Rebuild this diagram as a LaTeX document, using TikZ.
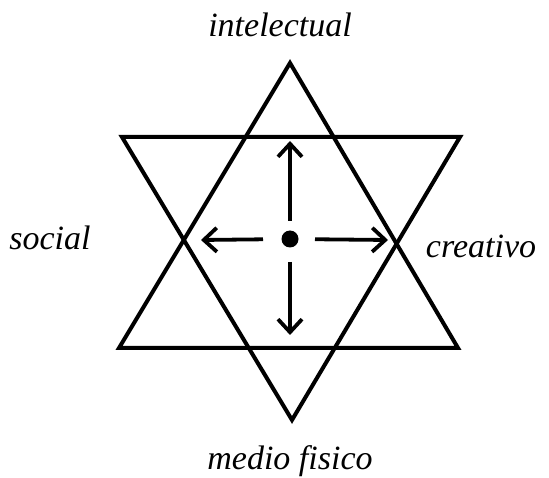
\documentclass[tikz,border=0pt]{standalone}
\usepackage{fontspec}
\setmainfont{Liberation Serif}
\usepackage{tikz}
\usetikzlibrary{arrows.meta,positioning}

\begin{document}
\begin{tikzpicture}[
  x=1pt, y=-1pt,
  every node/.style={font=\fontsize{34}{36}\selectfont\itshape},
  tri/.style={line width=4pt, line join=miter},
  arr/.style={-{Straight Barb[length=13pt, width=24pt, line width=3.8pt]}, line width=3.8pt},
  hub/.style={circle, fill=black, inner sep=0pt, minimum size=17pt}
]
\useasboundingbox (0,0) rectangle (549,478);

% star vertices
\coordinate (ut) at (290,63);
\coordinate (ul) at (119,348);
\coordinate (ur) at (458,348);
\coordinate (dl) at (122,137);
\coordinate (dr) at (460,137);
\coordinate (db) at (292,420);

\draw[tri] (ut) -- (ur) -- (ul) -- cycle;
\draw[tri] (dl) -- (dr) -- (db) -- cycle;

% center and arrows
\node[hub] (ctr) at (290,239) {};
\coordinate (up) at (290,141);
\coordinate (lt) at (201,240);
\coordinate (rt) at (388,240);
\coordinate (dn) at (290,335);
\draw[arr, shorten <=18pt] (ctr.center) -- (up);
\draw[arr, shorten <=27pt] (ctr.center) -- (lt);
\draw[arr, shorten <=25pt] (ctr.center) -- (rt);
\draw[arr, shorten <=23pt] (ctr.center) -- (dn);

% labels
\node (intel) at (280,25) {intelectual};
\node (social) at (50,238) {social};
\node (creat) at (481,246) {creativo};
\node (medio) at (290,461) {medio fisico};
\end{tikzpicture}
\end{document}
